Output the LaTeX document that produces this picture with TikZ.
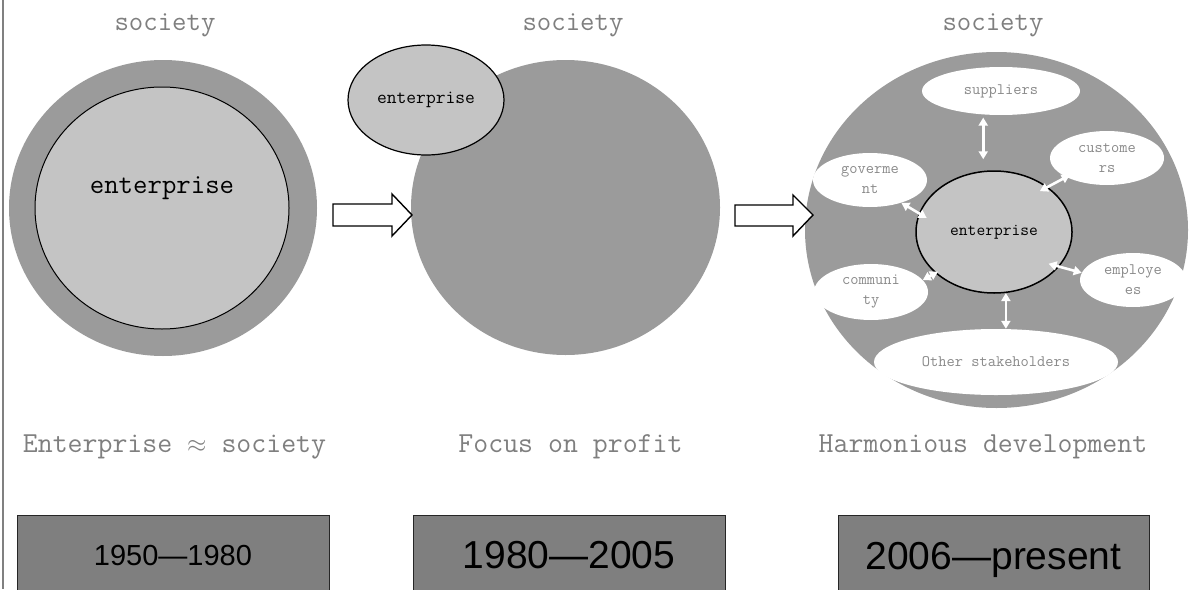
\documentclass[tikz,border=0pt]{standalone}
\usepackage{fontspec}
\newfontfamily\yearfont{Liberation Sans}
\usetikzlibrary{arrows.meta,shapes.geometric}
\definecolor{socgray}{HTML}{9B9B9B}
\definecolor{entgray}{HTML}{C4C4C4}
\definecolor{textgray}{HTML}{7F7F7F}
\definecolor{labelgray}{HTML}{8A8A8A}
\definecolor{boxgray}{HTML}{7F7F7F}
\begin{document}
\begin{tikzpicture}[x=1pt,y=-1pt,
  soc/.style={ellipse,fill=socgray,draw=none,inner sep=0pt},
  entell/.style={ellipse,fill=entgray,draw=black,inner sep=0pt,font=\ttfamily},
  stake/.style={ellipse,fill=white,draw=none,inner sep=0pt,text=labelgray,
    font=\ttfamily\fontsize{16}{20}\selectfont,align=center},
  warrow/.style={draw=white,line width=2.6pt,
    {Triangle[length=8pt,width=9pt]}-{Triangle[length=8pt,width=9pt]}},
  blockarrow/.style={draw=black,fill=white,line width=1.4pt,line join=miter},
  yearbox/.style={rectangle,fill=boxgray,draw=black!85,line width=1pt,inner sep=0pt,
    minimum width=312pt,font=\yearfont\fontsize{29}{34}\selectfont},
  title/.style={text=textgray,font=\ttfamily\fontsize{28}{32}\selectfont,anchor=base,inner sep=0pt},
  caption/.style={text=textgray,font=\ttfamily\fontsize{29}{34}\selectfont,anchor=base,inner sep=0pt}
]
\useasboundingbox (0,0) rectangle (1193,589);
% left border
\draw[gray,line width=1.2pt] (3,0) -- (3,589);

% titles
\node[title] (t1) at (165,30) {society};
\node[title] (t2) at (573,30) {society};
\node[title] (t3) at (993,30) {society};

% panel 1
\node[soc,minimum width=308pt,minimum height=296pt] (soc1) at (163,208) {};
\node[entell,line width=1pt,minimum width=254pt,minimum height=242pt] (ent1) at (162,208) {};
\node[font=\ttfamily\fontsize{28}{32}\selectfont,anchor=base,inner sep=0pt] (ent1t) at (162,193) {enterprise};

% panel 2
\node[soc,minimum width=309pt,minimum height=295pt] (soc2) at (565.5,207.5) {};
\node[entell,line width=1.2pt,minimum width=156pt,minimum height=110pt,
  font=\ttfamily\fontsize{19}{22}\selectfont] (ent2) at (426,100) {enterprise};

% panel 3
\node[soc,minimum width=383pt,minimum height=356pt] (soc3) at (996.5,230) {};
\node[stake,minimum width=158pt,minimum height=48pt] (sup) at (1001,91) {suppliers};
\node[stake,minimum width=114pt,minimum height=54pt] (cus) at (1107,158) {custome\\rs};
\node[stake,minimum width=114pt,minimum height=54pt] (gov) at (870,180) {goverme\\nt};
\node[stake,minimum width=114pt,minimum height=56pt] (com) at (871,292) {communi\\ty};
\node[stake,minimum width=106pt,minimum height=54pt] (emp) at (1133,280) {employe\\es};
\node[stake,minimum width=244pt,minimum height=66pt] (oth) at (996,362) {Other stakeholders};
\node[entell,line width=1.5pt,minimum width=156pt,minimum height=122pt,
  font=\ttfamily\fontsize{17}{20}\selectfont] (ent3) at (994,232) {enterprise};

\draw[warrow,shorten <=3pt,shorten >=11pt] (sup.-127) -- (sup.-127 |- ent3.north);
\draw[warrow,shorten <=-9pt,shorten >=-4pt] (ent3.40) -- (cus.205);
\draw[warrow,shorten >=-9pt] (gov.-36) -- (ent3.166);
\draw[warrow,shorten >=-3pt] (com.13) -- (ent3.215);
\draw[warrow,shorten <=-11pt] (ent3.-28) -- (emp.172);
\draw[warrow] (ent3.-79) -- (ent3.-79 |- oth.north);

% block arrows
\draw[blockarrow] (333,204) -- (392,204) -- (392,194) -- (412,215) -- (392,236) -- (392,226) -- (333,226) -- cycle;
\draw[blockarrow] (735,205) -- (793,205) -- (793,195) -- (813,215) -- (793,236) -- (793,226) -- (735,226) -- cycle;

% captions
\node[caption] (c1) at (174.5,452) {Enterprise $\approx$ society};
\node[caption] (c2) at (570.5,452) {Focus on profit};
\node[caption] (c3) at (983,452) {Harmonious development};

% year boxes
\node[yearbox,text height=50pt,text depth=35pt] (y1) at (173,557.5) {1950—1980};
\node[yearbox,text height=53pt,text depth=32pt,font=\yearfont\fontsize{39}{44}\selectfont] (y2) at (569,557.5) {1980—2005};
\node[yearbox,minimum width=311pt,text height=54pt,text depth=31pt,font=\yearfont\fontsize{39}{44}\selectfont] (y3) at (993.5,557.5) {2006—present};
\end{tikzpicture}
\end{document}
